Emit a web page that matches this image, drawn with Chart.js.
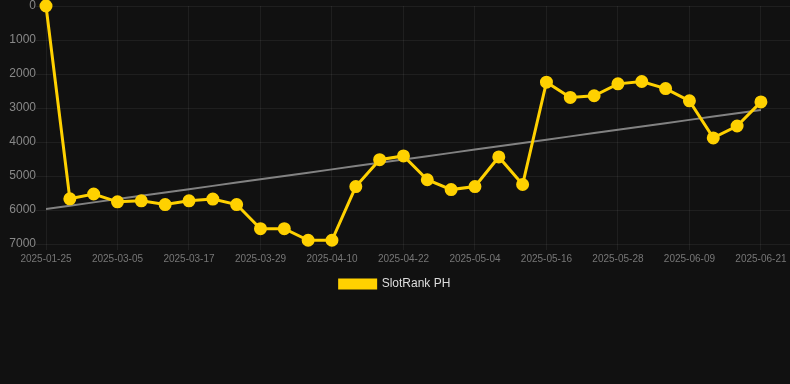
<!DOCTYPE html>
<html>
<head>
<meta charset="utf-8">
<script src="https://cdn.jsdelivr.net/npm/chart.js@4/dist/chart.umd.min.js"></script>
<style>
html,body{margin:0;padding:0;background:#111111;overflow:hidden;}
#wrap{position:relative;width:790px;height:300px;}
</style>
</head>
<body>
<div id="wrap"><canvas id="c"></canvas></div>
<script>
const categories = ["2025-01-25","2025-02-25","2025-03-01","2025-03-05","2025-03-09","2025-03-13","2025-03-17","2025-03-21","2025-03-25","2025-03-29","2025-04-02","2025-04-06","2025-04-10","2025-04-14","2025-04-18","2025-04-22","2025-04-26","2025-04-30","2025-05-04","2025-05-08","2025-05-12","2025-05-16","2025-05-20","2025-05-24","2025-05-28","2025-06-01","2025-06-05","2025-06-09","2025-06-13","2025-06-17","2025-06-21"];
const rankValues = [0,5670,5530,5760,5730,5840,5730,5680,5840,6550,6550,6890,6890,5310,4520,4410,5110,5400,5310,4440,5250,2240,2690,2640,2290,2220,2430,2790,3880,3530,2820];
const yTicks = [0,1000,2000,3000,4000,5000,6000,7000];
const xTickEvery = 3;
const seriesName = "SlotRank PH";

// least-squares trend line derived from the series
const n = rankValues.length;
const mx = (n-1)/2;
const my = rankValues.reduce((a,b)=>a+b,0)/n;
let sxy=0, sxx=0;
rankValues.forEach((v,i)=>{sxy+=(i-mx)*(v-my);sxx+=(i-mx)*(i-mx);});
const slope = sxy/sxx;
const points = rankValues.map((v,i)=>({x:i,y:v}));
const trend = rankValues.map((v,i)=>({x:i,y:my+slope*(i-mx)}));

new Chart(document.getElementById('c'),{
  type:'line',
  data:{
    datasets:[
      {label:seriesName,data:points,borderColor:'#FFD100',backgroundColor:'#FFD100',borderWidth:3,pointRadius:5,pointHoverRadius:5,pointBackgroundColor:'#FFD100',pointBorderColor:'#FFD100',tension:0,clip:false,order:1},
      {label:'trend',data:trend,borderColor:'rgba(150,150,150,0.85)',borderWidth:2,pointRadius:0,fill:false,tension:0,order:2}
    ]
  },
  options:{
    responsive:true,maintainAspectRatio:false,animation:false,
    layout:{autoPadding:false},
    plugins:{
      legend:{position:'bottom',labels:{color:'#dddddd',font:{size:12,family:'Arial, Liberation Sans, sans-serif'},boxWidth:36,boxHeight:8,filter:(it)=>it.text!=='trend'}},
      tooltip:{enabled:false}
    },
    scales:{
      x:{
        type:'linear',min:0,max:31.22,
        afterBuildTicks:(ax)=>{const t=[];for(let i=0;i<categories.length;i+=xTickEvery)t.push({value:i});ax.ticks=t;},
        afterFit:(ax)=>{ax.paddingRight=0;},
        grid:{color:'rgba(255,255,255,0.06)',tickLength:6},
        border:{display:false},
        ticks:{color:'#777777',font:{size:10,family:'Arial, Liberation Sans, sans-serif'},maxRotation:0,
          callback:function(v){return categories[v];}}
      },
      y:{
        reverse:true,min:0,max:7000,
        afterBuildTicks:(ax)=>{ax.ticks=yTicks.map(v=>({value:v}));},
        afterFit:(ax)=>{ax.width=46;ax.paddingTop=6;},
        grid:{color:'rgba(255,255,255,0.06)',tickLength:10},
        border:{display:false},
        ticks:{color:'#888888',padding:0,font:{size:12,family:'Arial, Liberation Sans, sans-serif'},callback:(v)=>String(v)}
      }
    }
  }
});
</script>
</body>
</html>
